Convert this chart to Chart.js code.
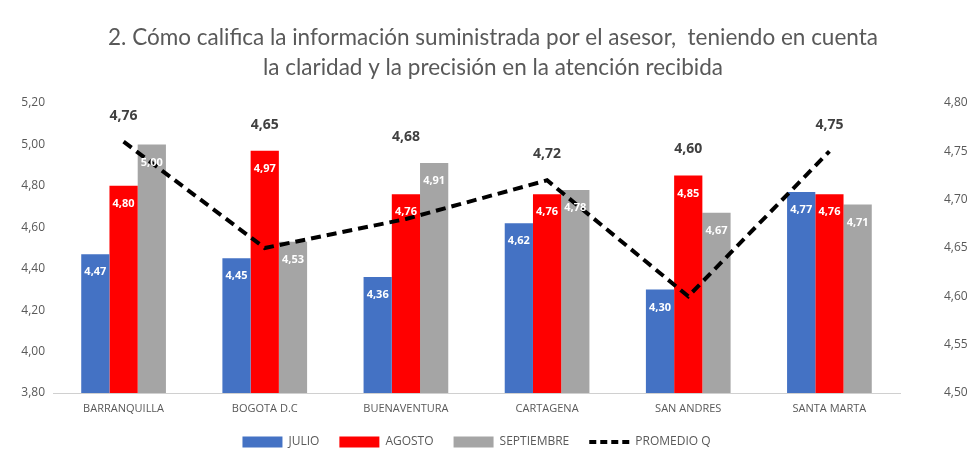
<!DOCTYPE html>
<html>
<head>
<meta charset="utf-8">
<script src="https://cdn.jsdelivr.net/npm/chart.js@4.4.1/dist/chart.umd.min.js"></script>
<style>
  html, body { margin: 0; padding: 0; background: #fff; }
  #wrap { width: 970px; height: 455px; position: relative; }
</style>
</head>
<body>
<div id="wrap"><canvas id="chart"></canvas></div>
<script>
// data
const categories = ['BARRANQUILLA', 'BOGOTA D.C', 'BUENAVENTURA', 'CARTAGENA', 'SAN ANDRES', 'SANTA MARTA'];
const julio = [4.47, 4.45, 4.36, 4.62, 4.30, 4.77];
const agosto = [4.80, 4.97, 4.76, 4.76, 4.85, 4.76];
const septiembre = [5.00, 4.53, 4.91, 4.78, 4.67, 4.71];
const promedio = [4.76, 4.65, 4.68, 4.72, 4.60, 4.75];
const titleLines = ['2. Cómo califica la información suministrada por el asesor,  teniendo en cuenta',
                    'la claridad y la precisión en la atención recibida'];

const fmt = v => v.toFixed(2).replace('.', ',');
const textGray = '#595959';

// value labels: white inside bar tops, bold gray above the line
const labelPlugin = {
  id: 'labels',
  afterDatasetsDraw(chart) {
    const ctx = chart.ctx;
    ctx.save();
    ctx.textAlign = 'center';
    ctx.textBaseline = 'middle';
    const barTops = [];
    chart.data.datasets.forEach((ds, i) => {
      const meta = chart.getDatasetMeta(i);
      if (ds.type === 'line') return;
      meta.data.forEach((bar, j) => {
        barTops[j] = Math.min(barTops[j] ?? 9999, bar.y);
        ctx.font = 'bold 11px "Open Sans", sans-serif';
        ctx.fillStyle = '#fff';
        ctx.fillText(fmt(ds.data[j]), bar.x, bar.y + 18);
      });
    });
    chart.data.datasets.forEach((ds, i) => {
      if (ds.type !== 'line') return;
      const meta = chart.getDatasetMeta(i);
      meta.data.forEach((pt, j) => {
        const top = Math.min(pt.y, barTops[j]);
        ctx.font = 'bold 14px "Open Sans", sans-serif';
        ctx.fillStyle = '#404040';
        ctx.fillText(fmt(ds.data[j]), pt.x, top - 26);
      });
    });
    ctx.restore();
  }
};

new Chart(document.getElementById('chart'), {
  type: 'bar',
  data: {
    labels: categories,
    datasets: [
      { label: 'JULIO', data: julio, backgroundColor: '#4472C4', yAxisID: 'y', order: 1 },
      { label: 'AGOSTO', data: agosto, backgroundColor: '#FF0000', yAxisID: 'y', order: 1 },
      { label: 'SEPTIEMBRE', data: septiembre, backgroundColor: '#A5A5A5', yAxisID: 'y', order: 1 },
      {
        type: 'line', label: 'PROMEDIO Q', data: promedio, yAxisID: 'y1', order: 0,
        borderColor: '#000', backgroundColor: '#000', borderWidth: 4,
        borderDash: [10, 6], pointRadius: 0, tension: 0, fill: false
      }
    ]
  },
  options: {
    responsive: true,
    maintainAspectRatio: false,
    animation: false,
    datasets: { bar: { categoryPercentage: 0.6, barPercentage: 1 } },
    layout: { padding: { left: 16, right: 0, top: 0, bottom: 0 } },
    plugins: {
      tooltip: { enabled: false },
      title: {
        display: true,
        text: titleLines,
        color: textGray,
        font: { family: 'Lato', size: 22.5, weight: 'normal', lineHeight: 1.333 },
        padding: { top: 23, bottom: 20 }
      },
      legend: {
        position: 'bottom',
        fullSize: false,
        maxHeight: 39,
        labels: {
          color: textGray,
          font: { family: '"Open Sans"', size: 12 },
          usePointStyle: true,
          pointStyleWidth: 40,
          boxHeight: 11,
          padding: 20,
          sort: (a, b) => a.datasetIndex - b.datasetIndex,
          generateLabels(chart) {
            return chart.data.datasets.map((ds, i) => ({
              text: ds.label,
              datasetIndex: i,
              fillStyle: ds.type === 'line' ? '#000' : ds.backgroundColor,
              strokeStyle: ds.type === 'line' ? '#000' : ds.backgroundColor,
              lineWidth: ds.type === 'line' ? 4 : 0,
              lineDash: ds.type === 'line' ? [7, 4] : [],
              pointStyle: ds.type === 'line' ? 'line' : 'rect',
              fontColor: textGray,
              hidden: false
            }));
          }
        }
      }
    },
    scales: {
      x: {
        afterFit(s) { s.height = 23; },
        grid: { display: false, drawTicks: false },
        border: { display: true, color: '#d0d0d0' },
        ticks: { color: textGray, font: { family: '"Open Sans"', size: 11 }, padding: 9 }
      },
      y: {
        position: 'left',
        min: 3.8, max: 5.2,
        afterFit(s) { s.width = 37; },
        grid: { display: false, drawTicks: false },
        border: { display: false },
        ticks: { stepSize: 0.2, color: textGray, padding: 8, font: { family: '"Open Sans"', size: 12 }, callback: v => fmt(v) }
      },
      y1: {
        position: 'right',
        min: 4.5, max: 4.8,
        afterFit(s) { s.width = 70; },
        grid: { display: false, drawTicks: false },
        border: { display: false },
        ticks: { stepSize: 0.05, color: textGray, padding: 44, font: { family: '"Open Sans"', size: 12 }, callback: v => fmt(v) }
      }
    }
  },
  plugins: [labelPlugin]
});
</script>
</body>
</html>
